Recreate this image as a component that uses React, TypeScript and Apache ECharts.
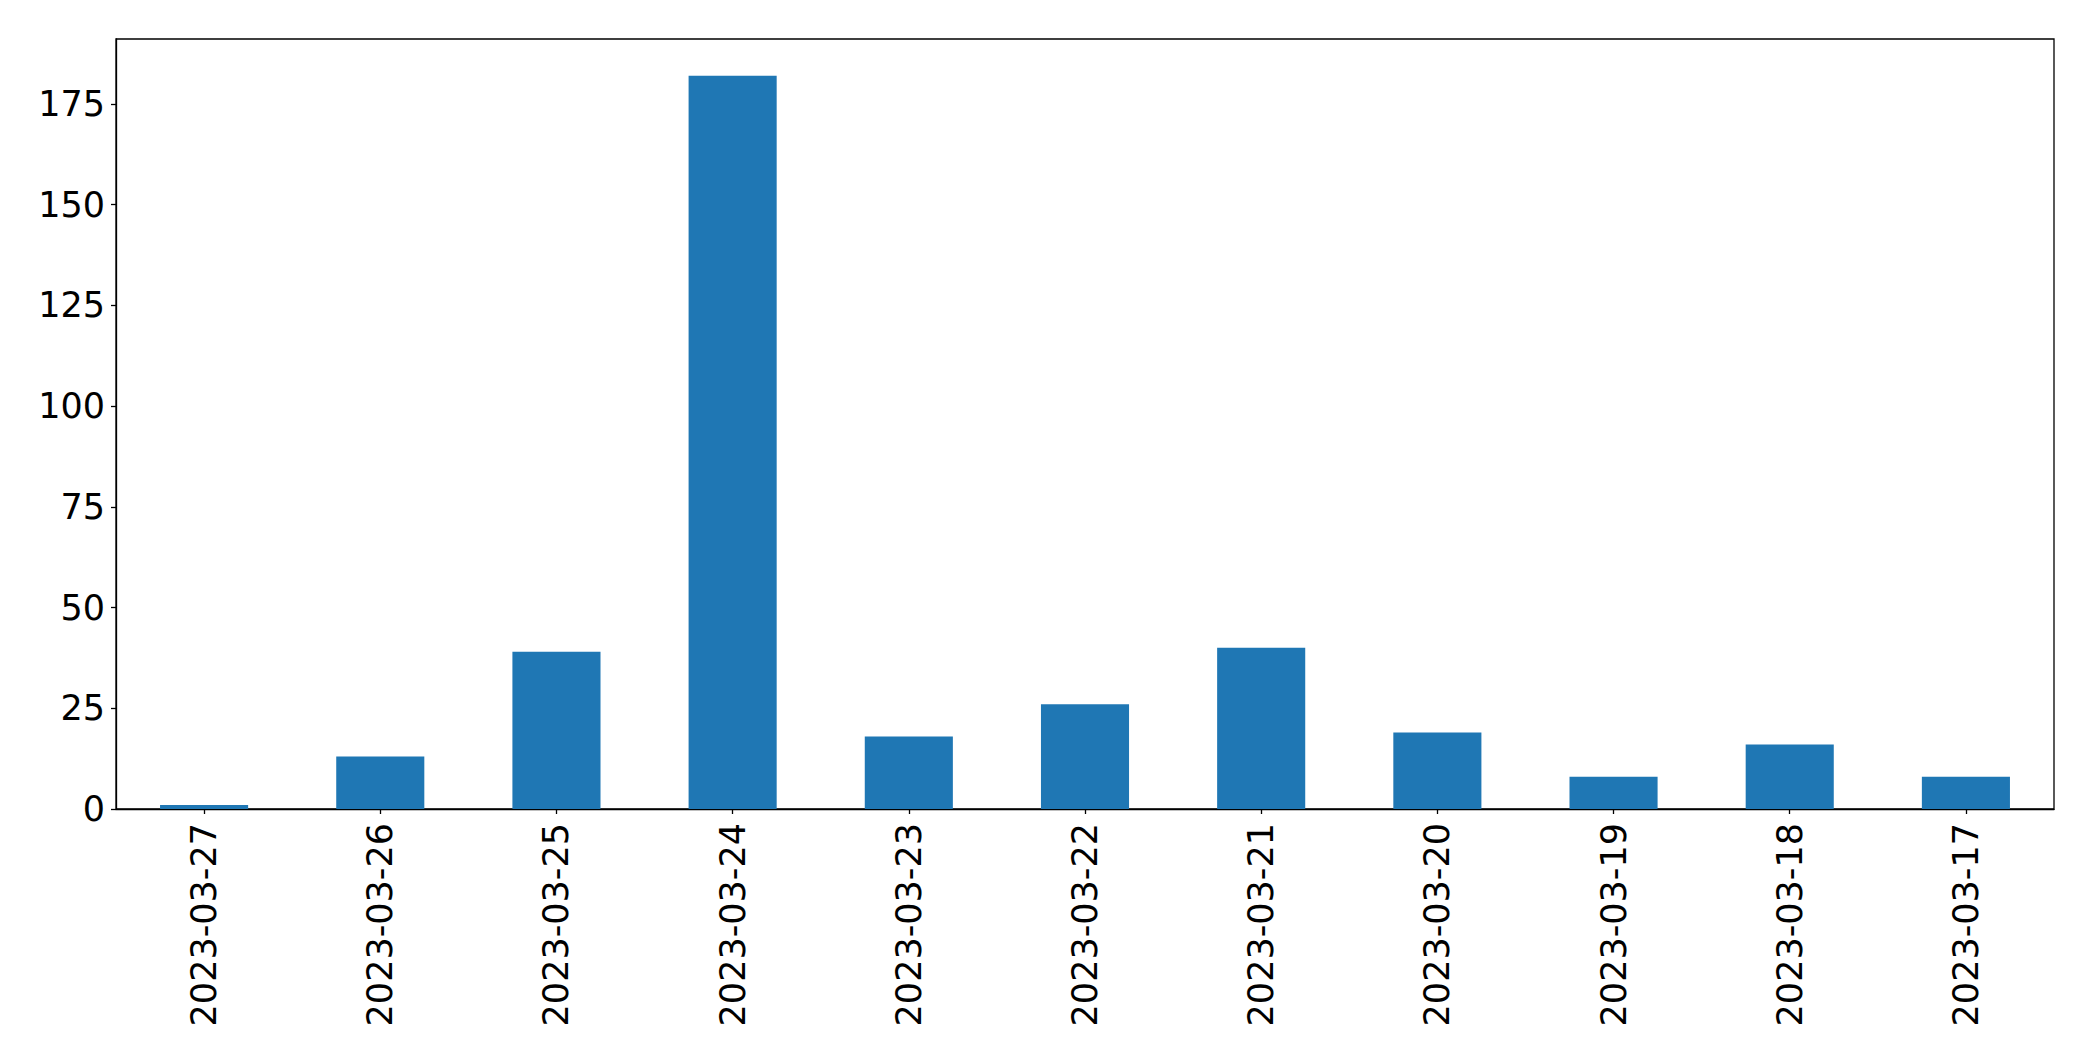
import React, { useEffect, useRef } from "react";
import * as echarts from "echarts";

const categories = [
  "2023-03-27",
  "2023-03-26",
  "2023-03-25",
  "2023-03-24",
  "2023-03-23",
  "2023-03-22",
  "2023-03-21",
  "2023-03-20",
  "2023-03-19",
  "2023-03-18",
  "2023-03-17",
];
const counts = [1, 13, 39, 182, 18, 26, 40, 19, 8, 16, 8];
const yTicks = [0, 25, 50, 75, 100, 125, 150, 175];

export default function App() {
  const ref = useRef<HTMLDivElement>(null);
  useEffect(() => {
    if (!ref.current) return;
    const chart = echarts.init(ref.current, null, { renderer: "svg" });
    const font = "DejaVu Sans";
    const yMax = Math.max(...counts) * 1.05;
    chart.setOption({
      animation: false,
      backgroundColor: "#ffffff",
      grid: {
        left: 116,
        right: 39,
        top: 39,
        bottom: 252,
        show: true,
        borderColor: "#000000",
        borderWidth: 1.3,
        backgroundColor: "transparent",
      },
      xAxis: {
        type: "category",
        data: categories,
        boundaryGap: true,
        axisLine: { show: true, lineStyle: { color: "#000000", width: 1.3 } },
        axisTick: {
          show: true,
          alignWithLabel: true,
          length: 5,
          lineStyle: { color: "#000000", width: 1.3 },
        },
        axisLabel: {
          rotate: 90,
          margin: 14,
          color: "#000000",
          fontFamily: font,
          fontSize: 35,
          interval: 0,
        },
        splitLine: { show: false },
      },
      yAxis: {
        type: "value",
        min: 0,
        max: yMax,
        axisLine: { show: true, lineStyle: { color: "#000000", width: 1.3 } },
        axisTick: {
          show: true,
          length: 5,
          customValues: yTicks,
          lineStyle: { color: "#000000", width: 1.3 },
        },
        axisLabel: {
          customValues: yTicks,
          margin: 11,
          color: "#000000",
          fontFamily: font,
          fontSize: 35,
        },
        splitLine: { show: false },
      },
      series: [
        {
          type: "bar",
          data: counts,
          barWidth: "50%",
          itemStyle: { color: "#1f77b4" },
        },
      ],
    });
    return () => chart.dispose();
  }, []);
  return (
    <div
      ref={ref}
      style={{ position: "fixed", left: 0, top: 0, width: 2093, height: 1061, background: "#fff" }}
    />
  );
}
